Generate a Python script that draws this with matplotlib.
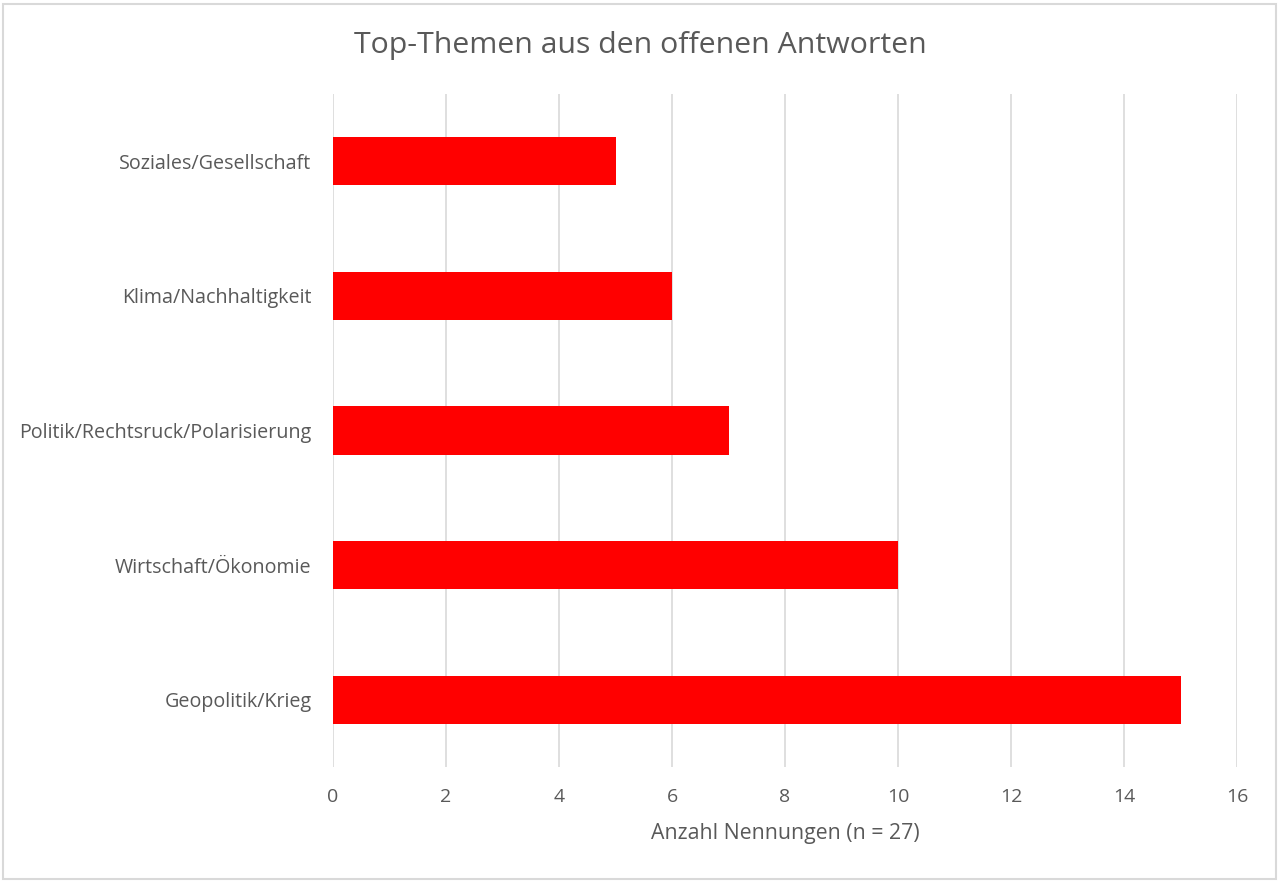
import matplotlib.pyplot as plt
from matplotlib.patches import Rectangle

# data (bottom to top as drawn)
themen = ["Geopolitik/Krieg", "Wirtschaft/Ökonomie", "Politik/Rechtsruck/Polarisierung",
          "Klima/Nachhaltigkeit", "Soziales/Gesellschaft"]
nennungen = [15, 10, 7, 6, 5]
x_ticks = [0, 2, 4, 6, 8, 10, 12, 14, 16]

text_grau = "#595959"
plt.rcParams['font.family'] = ['Open Sans', 'DejaVu Sans']

fig = plt.figure(figsize=(12.8, 8.82), dpi=100)
ax = fig.add_axes([333 / 1280, 1 - 767 / 882, (1237 - 333) / 1280, (767 - 94) / 882])

ax.barh(range(len(themen)), nennungen, height=0.357, color="#ff0000", zorder=3)
ax.set_ylim(-0.5, len(themen) - 0.5)
ax.set_xlim(0, 16)
ax.set_xticks(x_ticks)
ax.set_yticks(range(len(themen)))
ax.set_yticklabels(themen)

ax.grid(axis="x", color="#d9d9d9", linewidth=1.2, zorder=0)
for s in ax.spines.values():
    s.set_visible(False)
ax.tick_params(axis="x", length=0, labelsize=14, colors=text_grau, pad=15)
ax.tick_params(axis="y", length=0, labelsize=14.2, colors=text_grau, pad=15.5)

ax.set_xlabel("Anzahl Nennungen (n = 27)", fontsize=15.3, color=text_grau, labelpad=12)
fig.text(0.5, 1 - 45 / 882, "Top-Themen aus den offenen Antworten", ha="center", va="center",
         fontsize=21.8, color=text_grau)

# outer frame like the Excel chart area
fig.patches.append(Rectangle((3 / 1280, 3 / 882), 1273 / 1280, 875 / 882, transform=fig.transFigure,
                             fill=False, edgecolor="#d9d9d9", linewidth=1.5))

plt.savefig("out.png")
